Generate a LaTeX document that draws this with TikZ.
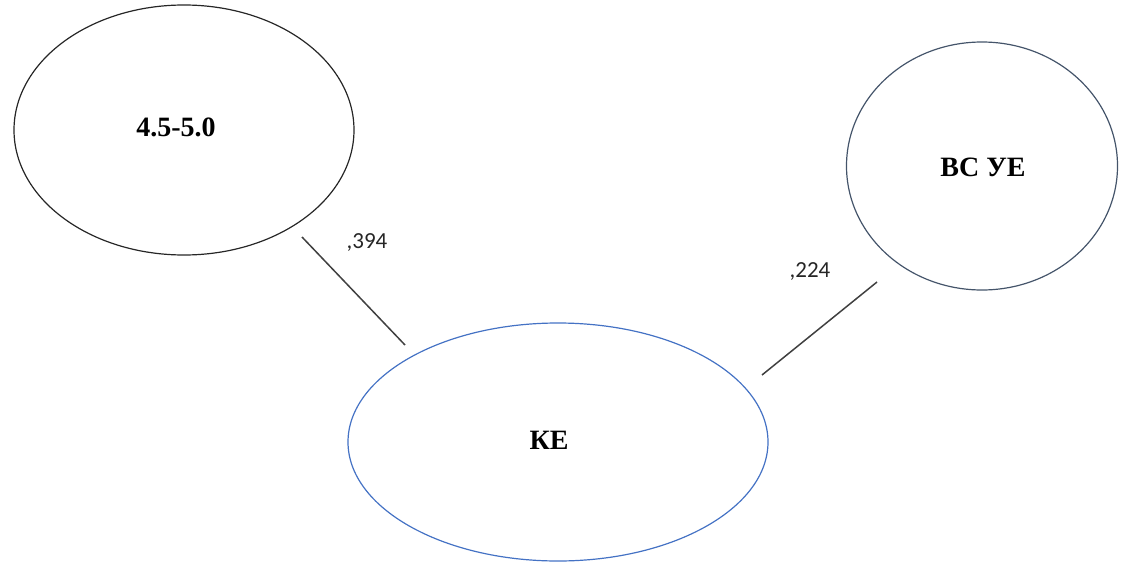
\documentclass[tikz,border=0pt]{standalone}
\usepackage{fontspec}
\setmainfont{Liberation Serif}
\newfontfamily\labelfont{Carlito}
\usetikzlibrary{shapes.geometric}
\begin{document}
\begin{tikzpicture}[x=1pt,y=-1pt,
  oval/.style={ellipse,draw,line width=1.2pt,inner sep=0pt},
  title/.style={font=\fontsize{28}{32}\selectfont\bfseries},
  link/.style={draw=black!75,line width=1.5pt},
  coef/.style={font=\labelfont\fontsize{23}{26}\selectfont,text=black!85}]
\useasboundingbox (0,0) rectangle (1130,562);
% three latent factors
\node[oval,draw=black!85,minimum width=340,minimum height=250] (grp) at (184,130) {};
\node[title] (grpt) at (176,127) {4.5-5.0};
\node[oval,draw={rgb,255:red,68;green,84;blue,106},minimum width=271,minimum height=248] (vs) at (982,166) {};
\node[title] (vst) at (983,167) {ВС УЕ};
\node[oval,draw={rgb,255:red,68;green,114;blue,196},minimum width=420,minimum height=238] (ke) at (558,442) {};
\node[title] (ket) at (549,440) {КЕ};
% path coefficients
\coordinate (a1) at (302,237);
\coordinate (a2) at (405,345);
\coordinate (b1) at (762,375);
\coordinate (b2) at (877,282);
\draw[link] (a1) -- (a2);
\draw[link] (b1) -- (b2);
\node[coef] (ca) at (367,243) {,394};
\node[coef] (cb) at (810,272) {,224};
\end{tikzpicture}
\end{document}
